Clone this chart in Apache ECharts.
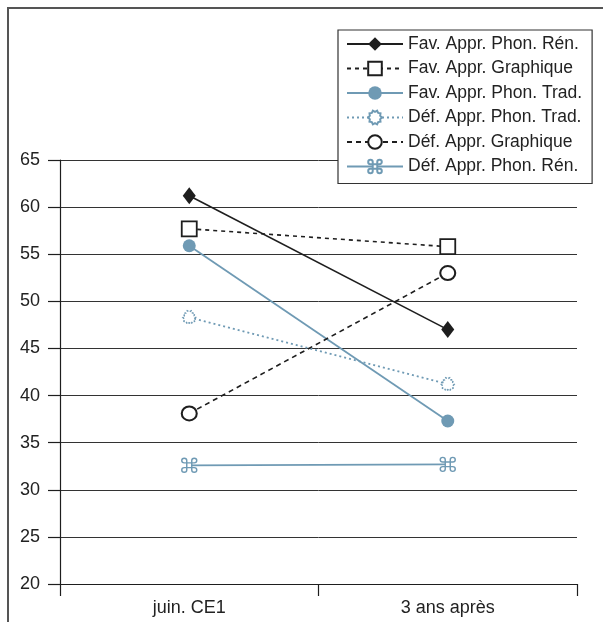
<!DOCTYPE html>
<html>
<head>
<meta charset="utf-8">
<script src="https://cdn.jsdelivr.net/npm/echarts@6/dist/echarts.min.js"></script>
<style>
html,body{margin:0;padding:0;background:#fff;}
#chart{width:603px;height:622px;}
</style>
</head>
<body>
<div id="chart"></div>
<script>
const categories = ['juin. CE1', '3 ans après'];
const yTicks = [20, 25, 30, 35, 40, 45, 50, 55, 60, 65];
const seriesNames = ['Fav. Appr. Phon. Rén.', 'Fav. Appr. Graphique', 'Fav. Appr. Phon. Trad.', 'Déf. Appr. Phon. Trad.', 'Déf. Appr. Graphique', 'Déf. Appr. Phon. Rén.'];
const favPhonRen = [61.2, 47.0];
const favGraphique = [57.7, 55.8];
const favPhonTrad = [55.9, 37.3];
const defPhonTrad = [48.3, 41.2];
const defGraphique = [38.1, 53.0];
const defPhonRen = [32.6, 32.7];

const BLACK = '#1e1e1e';
const BLUE = '#6f9ab4';

// gear-like "sun" symbol shape
function sunPath() {
  const n = 10, pts = [];
  for (let i = 0; i < n * 2; i++) {
    const a = Math.PI * i / n;
    const r = (i % 2 === 0) ? 50 : 40;
    pts.push((50 + r * Math.cos(a)).toFixed(1) + ',' + (50 + r * Math.sin(a)).toFixed(1));
  }
  return 'path://M' + pts.join('L') + 'Z';
}
const cmdPath = 'path://M35,35L35,20A15,15,0,1,0,20,35L80,35A15,15,0,1,0,65,20L65,80A15,15,0,1,0,80,65L20,65A15,15,0,1,0,35,80Z';

function mk(name, data, opts) {
  return Object.assign({
    name: name,
    type: 'line',
    data: data,
    z: 3,
    emphasis: { disabled: true },
    animation: false
  }, opts);
}

const series = [
  mk(seriesNames[0], favPhonRen, {
    symbol: 'diamond', symbolSize: [13, 17],
    itemStyle: { color: BLACK },
    lineStyle: { color: BLACK, width: 1.6, type: 'solid' }
  }),
  mk(seriesNames[1], favGraphique, {
    symbol: 'rect', symbolSize: 15,
    itemStyle: { color: '#fff', borderColor: BLACK, borderWidth: 1.8 },
    lineStyle: { color: BLACK, width: 1.6, type: [4, 4] }
  }),
  mk(seriesNames[2], favPhonTrad, {
    symbol: 'circle', symbolSize: 13,
    itemStyle: { color: BLUE },
    lineStyle: { color: BLUE, width: 1.8, type: 'solid' }
  }),
  mk(seriesNames[3], defPhonTrad, {
    symbol: sunPath(), symbolSize: 13,
    itemStyle: { color: '#fff', borderColor: BLUE, borderWidth: 1.5, borderType: [2, 1.5] },
    lineStyle: { color: BLUE, width: 1.8, type: [2, 3] }
  }),
  mk(seriesNames[4], defGraphique, {
    symbol: 'circle', symbolSize: [15, 14],
    itemStyle: { color: '#fff', borderColor: BLACK, borderWidth: 2 },
    lineStyle: { color: BLACK, width: 1.6, type: [5, 4] }
  }),
  mk(seriesNames[5], defPhonRen, {
    symbol: cmdPath, symbolSize: [15, 14],
    itemStyle: { color: '#fff', borderColor: BLUE, borderWidth: 1.4 },
    lineStyle: { color: BLUE, width: 1.8, type: 'solid' }
  })
];

const chart = echarts.init(document.getElementById('chart'), null, { renderer: 'canvas' });
chart.setOption({
  backgroundColor: '#fff',
  animation: false,
  textStyle: { fontFamily: 'Liberation Sans, Arial, sans-serif' },
  graphic: [{
    type: 'rect',
    shape: { x: 8, y: 8, width: 720, height: 720 },
    style: { fill: 'none', stroke: '#555', lineWidth: 2 },
    silent: true, z: 0
  }],
  grid: { left: 60, right: 26, top: 160, bottom: 38, containLabel: false },
  legend: {
    orient: 'vertical',
    left: 338, top: 30,
    padding: [4, 10, 7, 8],
    backgroundColor: '#fff',
    borderColor: '#333', borderWidth: 1.2,
    itemWidth: 56, itemHeight: 17, itemGap: 4.5,
    textStyle: { fontSize: 17.5, color: '#222', lineHeight: 20, fontFamily: 'Liberation Sans, Arial, sans-serif' },
    data: seriesNames,
    z: 10
  },
  xAxis: {
    type: 'category',
    data: categories,
    boundaryGap: true,
    axisLine: { lineStyle: { color: BLACK, width: 1.2 } },
    axisTick: { show: true, length: 12, alignWithLabel: false, lineStyle: { color: BLACK, width: 1.2 } },
    axisLabel: { fontSize: 18, color: '#222', margin: 15 },
    splitLine: { show: false }
  },
  yAxis: {
    type: 'value',
    min: yTicks[0], max: yTicks[yTicks.length - 1], interval: 5,
    axisLine: { show: true, lineStyle: { color: BLACK, width: 1.2 } },
    axisTick: { show: true, length: 12, lineStyle: { color: BLACK, width: 1.2 } },
    axisLabel: { fontSize: 18, color: '#222', margin: 20 },
    splitLine: { show: true, lineStyle: { color: '#333', width: 1 } }
  },
  series: series
});
</script>
</body>
</html>
